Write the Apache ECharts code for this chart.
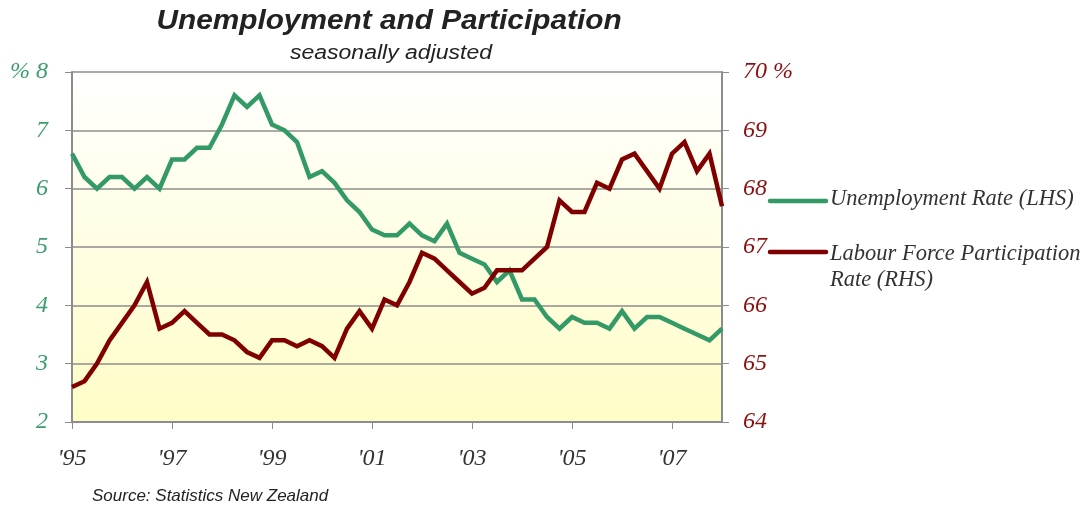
<!DOCTYPE html>
<html>
<head>
<meta charset="utf-8">
<script src="https://cdn.jsdelivr.net/npm/echarts@6/dist/echarts.min.js"></script>
<style>
  html, body { margin: 0; padding: 0; background: #ffffff; }
  #chart { width: 1087px; height: 508px; }
</style>
</head>
<body>
<div id="chart"></div>
<script>
// Quarterly observations, March 1995 quarter to March 2008 quarter
const quarters = [];
for (let y = 1995; y <= 2008; y++) {
  for (let q = 1; q <= 4; q++) {
    if (y === 2008 && q > 1) break;
    quarters.push(y + 'Q' + q);
  }
}

// Unemployment rate, % (left axis)
const unemployment = [
  6.6, 6.2, 6.0, 6.2, 6.2, 6.0, 6.2, 6.0,
  6.5, 6.5, 6.7, 6.7, 7.1, 7.6, 7.4, 7.6,
  7.1, 7.0, 6.8, 6.2, 6.3, 6.1, 5.8, 5.6,
  5.3, 5.2, 5.2, 5.4, 5.2, 5.1, 5.4, 4.9,
  4.8, 4.7, 4.4, 4.6, 4.1, 4.1, 3.8, 3.6,
  3.8, 3.7, 3.7, 3.6, 3.9, 3.6, 3.8, 3.8,
  3.7, 3.6, 3.5, 3.4, 3.6
];

// Labour force participation rate, % (right axis)
const participation = [
  64.6, 64.7, 65.0, 65.4, 65.7, 66.0, 66.4, 65.6,
  65.7, 65.9, 65.7, 65.5, 65.5, 65.4, 65.2, 65.1,
  65.4, 65.4, 65.3, 65.4, 65.3, 65.1, 65.6, 65.9,
  65.6, 66.1, 66.0, 66.4, 66.9, 66.8, 66.6, 66.4,
  66.2, 66.3, 66.6, 66.6, 66.6, 66.8, 67.0, 67.8,
  67.6, 67.6, 68.1, 68.0, 68.5, 68.6, 68.3, 68.0,
  68.6, 68.8, 68.3, 68.6, 67.7
];

const seriesNames = ['Unemployment Rate (LHS)', 'Labour Force Participation Rate (RHS)'];
const yearLabel = q => "'" + q.slice(2, 4);
// A label and tick every two years (every eighth quarter)
const everyTwoYears = idx => idx % 8 === 0;

const GREEN = '#339966';
const RED = '#800000';
const GRID_GREY = '#8c8c8c';
const serif = '"Liberation Serif", "DejaVu Serif", serif';
const sans = '"Liberation Sans", Arial, sans-serif';

const chart = echarts.init(document.getElementById('chart'), null, { renderer: 'canvas' });

chart.setOption({
  animation: false,
  backgroundColor: '#ffffff',
  grid: {
    left: 72, right: 365, top: 72, bottom: 86,
    show: true,
    borderWidth: 0,
    backgroundColor: new echarts.graphic.LinearGradient(0, 0, 0, 1, [
      { offset: 0, color: '#ffffff' },
      { offset: 1, color: '#fffdc6' }
    ])
  },
  xAxis: {
    type: 'category',
    data: quarters,
    boundaryGap: false,
    axisLine: { show: true, lineStyle: { color: GRID_GREY, width: 2 } },
    axisTick: { show: true, interval: everyTwoYears, length: 7, lineStyle: { color: GRID_GREY, width: 1 } },
    axisLabel: {
      interval: everyTwoYears, margin: 25,
      formatter: yearLabel,
      fontFamily: serif, fontSize: 24, fontStyle: 'italic', color: '#333333'
    },
    splitLine: { show: false }
  },
  yAxis: [
    {
      type: 'value', position: 'left', min: 2, max: 8, interval: 1,
      axisLine: { show: true, lineStyle: { color: GRID_GREY, width: 2 } },
      axisTick: { show: true, length: 7, lineStyle: { color: GRID_GREY, width: 1 } },
      axisLabel: {
        margin: 24,
        formatter: v => (v === 8 ? '% 8' : String(v)),
        fontFamily: serif, fontSize: 24, fontStyle: 'italic', color: '#3a9e6c'
      },
      splitLine: { show: true, lineStyle: { color: GRID_GREY, width: 1.5 } }
    },
    {
      type: 'value', position: 'right', min: 64, max: 70, interval: 1,
      axisLine: { show: true, lineStyle: { color: GRID_GREY, width: 2 } },
      axisTick: { show: true, length: 7, lineStyle: { color: GRID_GREY, width: 1 } },
      axisLabel: {
        margin: 21,
        formatter: v => (v === 70 ? '70 %' : String(v)),
        fontFamily: serif, fontSize: 24, fontStyle: 'italic', color: '#8b1010'
      },
      splitLine: { show: false }
    }
  ],
  series: [
    {
      name: seriesNames[0],
      type: 'line', yAxisIndex: 0,
      data: unemployment,
      showSymbol: false,
      lineStyle: { color: GREEN, width: 4.5, join: 'miter' },
      itemStyle: { color: GREEN },
      z: 3
    },
    {
      name: seriesNames[1],
      type: 'line', yAxisIndex: 1,
      data: participation,
      showSymbol: false,
      lineStyle: { color: RED, width: 4.5, join: 'miter' },
      itemStyle: { color: RED },
      z: 4
    }
  ],
  graphic: [
    // Heading, sub-heading and source note (slightly widened type)
    {
      type: 'text', x: 389, y: 7, scaleX: 1.064,
      style: {
        text: 'Unemployment and Participation', textAlign: 'center', textVerticalAlign: 'top',
        font: 'italic bold 28px ' + sans, fill: '#222222'
      }
    },
    {
      type: 'text', x: 391, y: 43, scaleX: 1.15,
      style: {
        text: 'seasonally adjusted', textAlign: 'center', textVerticalAlign: 'top',
        font: 'italic 20px ' + sans, fill: '#222222'
      }
    },
    {
      type: 'text', x: 92, y: 488,
      style: {
        text: 'Source: Statistics New Zealand', textAlign: 'left', textVerticalAlign: 'top',
        font: 'italic 17px ' + sans, fill: '#222222'
      }
    },
    // Key to the two lines, placed to the right of the plot
    {
      type: 'line', shape: { x1: 770, y1: 201, x2: 826, y2: 201 },
      style: { stroke: GREEN, lineWidth: 4.5, lineCap: 'round' }
    },
    {
      type: 'text', left: 830, top: 188,
      style: { text: seriesNames[0], font: 'italic 22.5px ' + serif, fill: '#333333' }
    },
    {
      type: 'line', shape: { x1: 770, y1: 252, x2: 826, y2: 252 },
      style: { stroke: RED, lineWidth: 4.5, lineCap: 'round' }
    },
    {
      type: 'text', left: 830, top: 241,
      style: { text: 'Labour Force Participation\nRate (RHS)', font: 'italic 22.5px ' + serif, fill: '#333333', lineHeight: 26 }
    }
  ]
});
</script>
</body>
</html>
